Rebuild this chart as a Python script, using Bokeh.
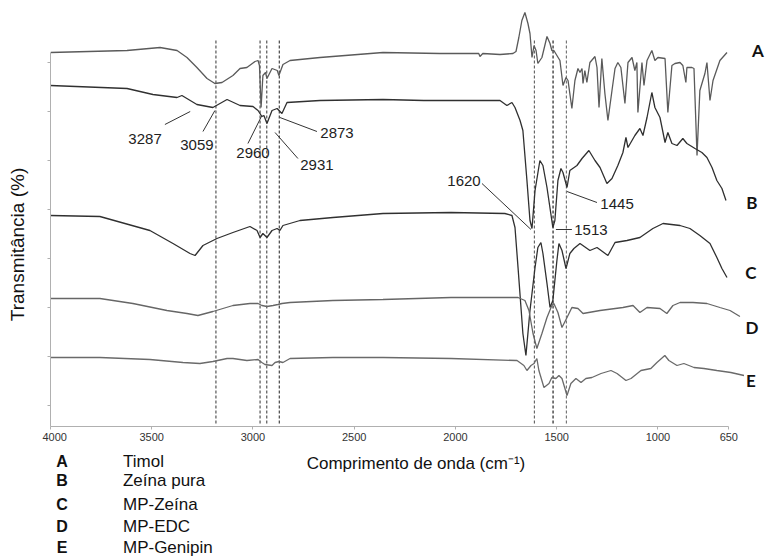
import math
from bokeh.plotting import figure
from bokeh.layouts import column, row
from bokeh.models import Range1d, FixedTicker
from bokeh.embed import file_html
from bokeh.resources import INLINE
from bokeh.core.properties import value

# ---------------- data (wavenumber cm-1, transmittance in arbitrary stacked units) ----------
wn_A = [4000, 3622, 3459, 3375, 3326, 3277, 3227, 3188, 3153, 3099, 3064, 3030, 2990, 2975,
        2968, 2960, 2951, 2938, 2931, 2906, 2880, 2872, 2852, 2817, 2669, 2358, 2077, 1885,
        1879, 1865, 1780, 1716, 1701, 1687, 1672, 1657, 1642, 1632, 1622, 1612, 1602, 1593,
        1573, 1548, 1533, 1524, 1514, 1499, 1484, 1469, 1454, 1444, 1425, 1410, 1395, 1385,
        1375, 1370, 1361, 1351, 1336, 1311, 1301, 1291, 1277, 1262, 1247, 1227, 1212, 1198,
        1183, 1163, 1148, 1128, 1114, 1104, 1099, 1079, 1069, 1054, 1030, 1015, 1000, 965,
        951, 931, 916, 891, 877, 862, 857, 832, 822, 807, 793, 768, 758, 743, 728, 694, 659]
t_A = [353, 355, 358, 355, 348, 338, 327, 322, 323, 330, 337, 338, 344, 345,
       340, 298, 330, 333, 327, 337, 335, 330, 341, 345, 348, 353, 352, 352,
       349, 352, 351, 352, 354, 368, 385, 393, 382, 372, 348, 360, 355, 342,
       348, 369, 362, 355, 355, 350, 345, 320, 328, 325, 297, 325, 337, 333,
       337, 322, 335, 323, 343, 349, 338, 298, 347, 312, 285, 315, 337, 343,
       338, 302, 343, 348, 335, 343, 293, 343, 320, 345, 355, 345, 348, 347,
       293, 340, 342, 343, 340, 323, 338, 338, 337, 250, 315, 332, 343, 305, 325, 345, 353]

wn_B = [4000, 3622, 3494, 3375, 3351, 3277, 3198, 3128, 3064, 3000, 2975, 2956, 2946, 2931,
        2906, 2881, 2857, 2832, 2669, 2358, 2156, 1780, 1746, 1721, 1706, 1681, 1667, 1647,
        1632, 1622, 1607, 1583, 1568, 1548, 1519, 1509, 1494, 1479, 1469, 1449, 1435, 1400,
        1375, 1341, 1311, 1286, 1252, 1227, 1198, 1173, 1158, 1148, 1114, 1089, 1074, 1054,
        1030, 1015, 990, 965, 951, 931, 906, 877, 857, 817, 783, 758, 733, 709, 684, 664]
t_B = [320, 317, 311, 308, 310, 301, 298, 306, 300, 299, 295, 289, 290, 282,
       295, 297, 292, 303, 305, 306, 305, 305, 300, 303, 298, 285, 275, 225,
       185, 177, 215, 245, 240, 218, 178, 185, 225, 237, 233, 218, 235, 240,
       247, 255, 245, 238, 222, 227, 240, 253, 268, 258, 270, 277, 270, 288,
       313, 298, 288, 263, 273, 262, 260, 267, 262, 257, 253, 248, 238, 225, 217, 205]

wn_C = [4000, 3756, 3509, 3395, 3311, 3286, 3247, 3178, 3099, 3015, 2980, 2965, 2951, 2931,
        2906, 2881, 2867, 2852, 2768, 2605, 2358, 2022, 1756, 1721, 1706, 1691, 1667, 1652,
        1632, 1607, 1593, 1578, 1568, 1548, 1533, 1519, 1499, 1489, 1474, 1454, 1435, 1415,
        1385, 1336, 1301, 1247, 1212, 1153, 1089, 1025, 975, 891, 842, 793, 743, 709, 684, 659]
t_C = [190, 189, 175, 162, 152, 150, 160, 167, 173, 179, 175, 168, 172, 168,
       175, 177, 175, 180, 185, 188, 192, 193, 192, 190, 178, 138, 72, 50,
       95, 138, 158, 163, 152, 122, 98, 105, 145, 162, 155, 137, 152, 157,
       162, 155, 158, 150, 163, 165, 168, 177, 182, 180, 177, 170, 162, 148, 137, 128]

wn_D = [4000, 3756, 3593, 3425, 3326, 3272, 3198, 3099, 3015, 2975, 2956, 2931, 2901, 2877,
        2857, 2817, 2605, 2358, 2022, 1691, 1657, 1637, 1617, 1598, 1573, 1548, 1524, 1514,
        1494, 1474, 1449, 1425, 1395, 1370, 1286, 1173, 1123, 1089, 1054, 990, 956, 926,
        891, 827, 758, 694, 644, 595]
t_D = [107, 107, 102, 95, 92, 90, 94, 100, 102, 102, 100, 99, 100, 101,
       102, 103, 105, 106, 108, 108, 105, 95, 72, 57, 72, 88, 100, 102,
       93, 78, 88, 98, 97, 92, 95, 98, 100, 93, 98, 97, 92, 100,
       103, 103, 102, 98, 95, 89]

wn_E = [4000, 3756, 3509, 3346, 3262, 3198, 3128, 3099, 3030, 2975, 2956, 2941, 2906, 2891,
        2872, 2852, 2817, 2605, 2358, 2022, 1696, 1662, 1647, 1627, 1612, 1598, 1588, 1563,
        1538, 1524, 1504, 1489, 1474, 1449, 1430, 1405, 1380, 1356, 1326, 1281, 1232, 1202,
        1158, 1133, 1084, 1035, 1005, 966, 946, 906, 872, 822, 773, 709, 640, 575]
t_E = [48, 48, 46, 43, 42, 44, 47, 47, 45, 46, 43, 41, 40, 43,
       44, 43, 47, 48, 48, 47, 45, 40, 35, 40, 42, 47, 35, 18,
       22, 28, 27, 30, 27, 10, 22, 27, 23, 27, 28, 32, 35, 32,
       25, 27, 35, 37, 43, 50, 45, 40, 42, 38, 37, 35, 33, 30]

# reference (dashed) lines
ref_wn = [3183, 2965, 2932, 2870, 1610, 1518, 1452]
ref_col = ["#555555", "#555555", "#555555", "#444444", "#666666", "#222222", "#777777"]

# peak annotations: text, text position, leader start, leader end
ann_text = ["3287", "3059", "2960", "2873", "2931", "1620", "1445", "1513"]
ann_x = [3533, 3277, 3000, 2585, 2684, 1958, 1202, 1331]
ann_y = [267, 261, 253, 273, 241, 225, 202, 176]
lead_x0 = [3435, 3247, 3025, 2684, 2778, 1869, 1301, 1504]
lead_y0 = [281, 274, 262, 274, 247, 222, 203, 176]
lead_x1 = [3310, 3188, 2956, 2867, 2891, 1627, 1449, 1425]
lead_y1 = [294, 295, 290, 288, 273, 176, 214, 176]

series_letters = ["A", "B", "C", "D", "E"]
series_names = ["Timol", "Zeína pura", "MP-Zeína", "MP-EDC", "MP-Genipin"]
letter_wn = [506, 536, 541, 536, 541]
letter_t = [355, 203, 133, 78, 25]

xticks = [4000, 3500, 3000, 2500, 2000, 1500, 1000, 650]
yticks = [0, 49, 98, 147, 196, 245, 294, 343]
x_title = "Comprimento de onda (cm\u207b\u00b9)"
y_title = "Transmitância (%)"

# legend block positions (below the axis)
leg_letter_x = [3943] * 5
leg_name_x = [3642] * 5
leg_y = [-56, -75, -99, -121, -142]

# ---------------- left strip: y title ----------------
yl = figure(width=42, height=446, output_backend="svg", toolbar_location=None,
            x_range=Range1d(0, 42), y_range=Range1d(-21, 397),
            min_border_left=0, min_border_right=0, min_border_top=8, min_border_bottom=20)
yl.axis.visible = False
yl.grid.visible = False
yl.outline_line_color = None
yl.text(x=[17], y=[161], text=[y_title], angle=math.pi / 2,
        text_font=value("Liberation Sans"), text_font_size="19px", text_color="#111111",
        text_align="center", text_baseline="middle")

# ---------------- main figure ----------------
p = figure(width=726, height=446, output_backend="svg", toolbar_location=None,
           x_range=Range1d(4000, 454), y_range=Range1d(-21, 397),
           min_border_left=8, min_border_right=0, min_border_top=8, min_border_bottom=20)
p.outline_line_color = None
p.xgrid.visible = False
p.ygrid.visible = False

xa = p.xaxis[0]
xa.ticker = FixedTicker(ticks=xticks)
xa.bounds = (650, 4000)
xa.axis_line_color = "#b0b0b0"
xa.major_tick_line_color = "#b0b0b0"
xa.major_tick_out = 3
xa.major_tick_in = 0
xa.minor_tick_line_color = None
xa.major_label_standoff = 3
xa.major_label_text_font = "Liberation Sans"
xa.major_label_text_font_size = "11px"
xa.major_label_text_color = "#333333"

# unlabelled y axis: tick marks only (drawn as minor ticks, so no label texts exist)
ya = p.yaxis[0]
ya.ticker = FixedTicker(ticks=[], minor_ticks=yticks)
ya.bounds = (-21, 353)
ya.axis_line_color = "#b0b0b0"
ya.major_tick_line_color = None
ya.minor_tick_line_color = "#b0b0b0"
ya.minor_tick_out = 3
ya.minor_tick_in = 0

# dashed reference lines
p.segment(x0=ref_wn, y0=[-18] * len(ref_wn), x1=ref_wn, y1=[367] * len(ref_wn),
          line_color=ref_col, line_dash="3 2", line_width=1.2)

# spectra
p.line(wn_A, t_A, line_color="#5a5a5a", line_width=1.3)
p.line(wn_B, t_B, line_color="#303030", line_width=1.3)
p.line(wn_C, t_C, line_color="#303030", line_width=1.3)
p.line(wn_D, t_D, line_color="#666666", line_width=1.3)
p.line(wn_E, t_E, line_color="#6a6a6a", line_width=1.3)

# peak annotations
p.segment(x0=lead_x0, y0=lead_y0, x1=lead_x1, y1=lead_y1, line_color="#333333", line_width=1)
p.text(x=ann_x, y=ann_y, text=ann_text, text_font=value("Liberation Sans"),
       text_font_size="15px", text_color="#222222", text_align="center",
       text_baseline="middle")

# series letters on the right
p.text(x=letter_wn, y=letter_t, text=series_letters, text_font=value("Lato"),
       text_font_style="bold", text_font_size="17px", text_color="#111111",
       text_align="center", text_baseline="middle")

# ---------------- lower strip: axis title + legend ----------------
q = figure(width=726, height=114, output_backend="svg", toolbar_location=None,
           x_range=Range1d(4000, 454), y_range=Range1d(-155, -41),
           min_border_left=8, min_border_right=0, min_border_top=0, min_border_bottom=0)
q.axis.visible = False
q.grid.visible = False
q.outline_line_color = None

q.text(x=[2195], y=[-58], text=[x_title], text_font=value("Liberation Sans"),
       text_font_size="17px", text_color="#111111", text_align="center",
       text_baseline="middle")
q.text(x=leg_letter_x, y=leg_y, text=series_letters, text_font=value("Liberation Sans"),
       text_font_style="bold", text_font_size="16px", text_color="#111111",
       text_align="center", text_baseline="middle")
q.text(x=leg_name_x, y=leg_y, text=series_names, text_font=value("Liberation Sans"),
       text_font_size="17px", text_color="#111111", text_align="left",
       text_baseline="middle")

layout = row(yl, column(p, q, spacing=0), spacing=0)
open("out.html", "w").write(file_html(layout, INLINE))
